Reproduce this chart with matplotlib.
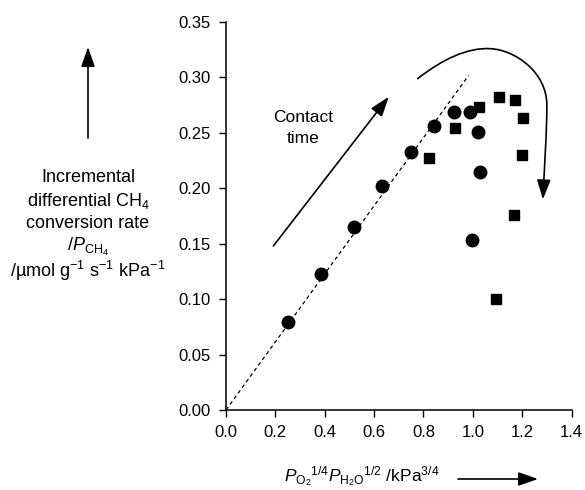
import matplotlib
matplotlib.use("Agg")
import matplotlib.pyplot as plt
from matplotlib.patches import FancyArrowPatch
from matplotlib.path import Path

plt.rcParams['font.family'] = ['Liberation Sans', 'DejaVu Sans']
plt.rcParams['mathtext.fontset'] = 'custom'
plt.rcParams['mathtext.rm'] = 'Liberation Sans'
plt.rcParams['mathtext.it'] = 'Liberation Sans:italic'
plt.rcParams['mathtext.bf'] = 'Liberation Sans:bold'

# data
circle_x = [0.253, 0.384, 0.518, 0.632, 0.750, 0.841, 0.925, 0.988, 1.021, 1.031, 0.997]
circle_y = [0.079, 0.123, 0.165, 0.202, 0.233, 0.256, 0.269, 0.269, 0.251, 0.2145, 0.153]
square_x = [0.823, 0.927, 1.025, 1.108, 1.169, 1.203, 1.201, 1.165, 1.093]
square_y = [0.227, 0.254, 0.273, 0.282, 0.280, 0.2635, 0.230, 0.176, 0.100]
fit_x = [0.0, 0.983]
fit_slope = 0.307

xticks = [0.0, 0.2, 0.4, 0.6, 0.8, 1.0, 1.2, 1.4]
yticks = [0.00, 0.05, 0.10, 0.15, 0.20, 0.25, 0.30, 0.35]

ylabel_lines = ['Incremental', 'differential CH$_4$', 'conversion rate',
                '/$P_{\\mathrm{CH_4}}$', '/\u00b5mol g$^{-1}$ s$^{-1}$ kPa$^{-1}$']
xlabel = '$P_{\\mathrm{O_2}}$$^{1/4}$$P_{\\mathrm{H_2O}}$$^{1/2}$ /kPa$^{3/4}$'

# annotation geometry (data coords)
contact_arrow_start = (0.192, 0.148)
contact_arrow_end = (0.659, 0.2825)
curve_pts = [(0.777, 0.299),
             (0.88, 0.317), (0.98, 0.327), (1.07, 0.326),
             (1.17, 0.325), (1.30, 0.305), (1.30, 0.275),
             (1.30, 0.25), (1.29, 0.22), (1.284, 0.19)]

HEAD = '-|>,head_length=12,head_width=4.2'

fig = plt.figure(figsize=(5.85, 4.9), dpi=100)
ax = fig.add_axes([0.3863, 0.1633, 0.977 - 0.3863, 0.955 - 0.1633])

ax.plot(fit_x, [fit_slope * v for v in fit_x], linestyle=(0, (3, 2.5)), color='black', lw=0.9)
ax.plot(circle_x, circle_y, 'o', color='black', markersize=9, linestyle='none')
ax.plot(square_x, square_y, 's', color='black', markersize=7.5, linestyle='none')

ax.set_xlim(0, 1.4)
ax.set_ylim(0, 0.35)
ax.set_xticks(xticks)
ax.set_xticklabels([f"{v:.1f}" for v in xticks])
ax.set_yticks(yticks)
ax.set_yticklabels([f"{v:.2f}" for v in yticks])
for s in ['top', 'right']:
    ax.spines[s].set_visible(False)
for s in ['left', 'bottom']:
    ax.spines[s].set_linewidth(1.1)
ax.tick_params(direction='out', length=5, width=1, labelsize=12, pad=6)

# contact time arrow
ax.add_patch(FancyArrowPatch(contact_arrow_start, contact_arrow_end, arrowstyle=HEAD,
                             color='black', lw=1.2, mutation_scale=1,
                             shrinkA=0, shrinkB=0))
fig.text(303 / 585, 1 - 118 / 490, 'Contact', ha='center', va='center', fontsize=12.5)
fig.text(303 / 585, 1 - 138 / 490, 'time', ha='center', va='center', fontsize=12.5)

# curved arrow
codes = [Path.MOVETO] + [Path.CURVE4] * 9
path = Path(curve_pts, codes)
ax.add_patch(FancyArrowPatch(path=path, arrowstyle=HEAD, color='black', lw=1.2,
                             mutation_scale=1))

# left label
ys = [177, 201, 224, 247, 271]
for line, yp in zip(ylabel_lines, ys):
    fig.text(88 / 585, 1 - yp / 490, line, ha='center', va='center', fontsize=13)
fig.add_artist(FancyArrowPatch((88 / 585, 1 - 138 / 490), (88 / 585, 1 - 47 / 490),
                               transform=fig.transFigure, arrowstyle=HEAD,
                               color='black', lw=1.2, mutation_scale=1,
                               shrinkA=0, shrinkB=0))

# bottom label
fig.text(362 / 585, 1 - 477 / 490, xlabel, ha='center', va='center', fontsize=12.5)
fig.add_artist(FancyArrowPatch((458 / 585, 1 - 479 / 490), (538 / 585, 1 - 479 / 490),
                               transform=fig.transFigure, arrowstyle=HEAD,
                               color='black', lw=1.2, mutation_scale=1,
                               shrinkA=0, shrinkB=0))

fig.savefig('out.png', dpi=100)
